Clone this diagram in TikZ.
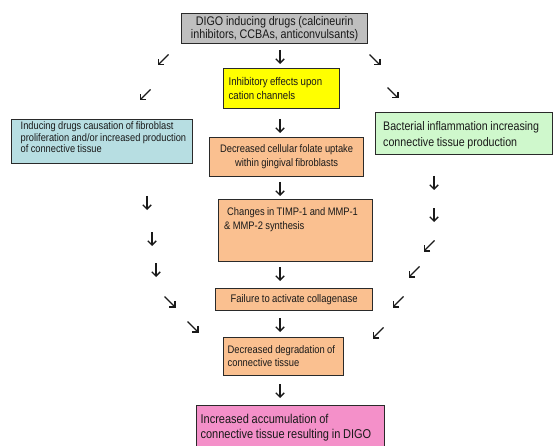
\documentclass[tikz,border=0pt]{standalone}
\usepackage{fontspec}
\setmainfont{Liberation Sans}[FakeStretch=0.86,WordSpace=0.9]
\usetikzlibrary{arrows.meta}
\definecolor{boxgray}{HTML}{BFBFBF}
\definecolor{boxyellow}{HTML}{FFFF00}
\definecolor{boxblue}{HTML}{B7DEE2}
\definecolor{boxgreen}{HTML}{CFF8CC}
\definecolor{boxorange}{HTML}{FAC090}
\definecolor{boxpink}{HTML}{F490C9}
\definecolor{edge}{HTML}{2A2A2A}
\definecolor{ink}{HTML}{1A1A1A}
\tikzset{
  box/.style={draw=edge, line width=1.2pt, rectangle, anchor=north west, inner xsep=5pt, inner ysep=2pt, text=ink},
  txt/.style={text=ink, inner sep=0pt, anchor=north west, align=flush left},
  arr/.style={draw=ink, line width=1.35pt, -{Straight Barb[length=4.2pt,width=8.4pt]}},
}
\newcommand{\dn}[2]{\draw[arr] (#1,#2-7) -- (#1,#2+7);}
\newcommand{\sw}[2]{\draw[arr] (#1+5.5,#2-5.5) -- (#1-5.5,#2+5.5);}
\newcommand{\se}[2]{\draw[arr] (#1-5.5,#2-5.5) -- (#1+5.5,#2+5.5);}
\begin{document}
\begin{tikzpicture}[x=1pt,y=-1pt]
\useasboundingbox (0,0) rectangle (553,446);
\fill[white] (0,0) rectangle (553,446);

% boxes
\node[box, fill=boxgray, minimum width=186pt, minimum height=30pt, align=center, inner ysep=1pt,
      font=\fontsize{12.5}{13.5}\selectfont] (digo) at (181,13)
  {DIGO inducing drugs (calcineurin\\inhibitors, CCBAs, anticonvulsants)};
\node[box, fill=boxyellow, minimum width=116pt, minimum height=40pt, text width=106pt, align=flush left,
      font=\fontsize{11.2}{14}\selectfont] (yel) at (223,68)
  {Inhibitory effects upon\\cation channels};
\node[box, fill=boxblue, minimum width=181pt, minimum height=44pt] (blue) at (11,119) {};
\node[txt, font=\fontsize{10.8}{11.6}\selectfont] (bluetxt) at ([xshift=9.5pt,yshift=-2.5pt]blue.north west)
  {Inducing drugs causation of fibroblast\\proliferation and/or increased production\\of connective tissue};
\node[box, fill=boxgreen, minimum width=177pt, minimum height=42pt] (green) at (375,112) {};
\node[txt, font=\fontsize{12.4}{16}\selectfont] (greentxt) at ([xshift=8pt,yshift=-9pt]green.north west)
  {Bacterial inflammation increasing\\connective tissue production};
\node[box, fill=boxorange, minimum width=154pt, minimum height=39pt, align=center,
      font=\fontsize{10.9}{14}\selectfont] (folate) at (209,137)
  {Decreased cellular folate uptake\\within gingival fibroblasts};
\node[box, fill=boxorange, minimum width=154pt, minimum height=62pt] (timp) at (218,199) {};
\node[txt, font=\fontsize{10.9}{14}\selectfont]
  (timptxt) at ([xshift=6pt,yshift=-8pt]timp.north west)
  {\hspace*{3pt}Changes in TIMP-1 and MMP-1\\\& MMP-2 synthesis};
\node[box, fill=boxorange, minimum width=157pt, minimum height=22pt, align=center,
      font=\fontsize{11}{12}\selectfont] (fail) at (215,288)
  {Failure to activate collagenase};
\node[box, fill=boxorange, minimum width=120pt, minimum height=38pt, text width=112pt, align=flush left,
      inner xsep=4pt, font=\fontsize{10.9}{13}\selectfont] (degr) at (223,337)
  {Decreased degradation of\\connective tissue};
\node[box, fill=boxpink, minimum width=188pt, minimum height=44pt, text width=180pt, align=flush left,
      inner xsep=4pt, font=\fontsize{12.8}{15.5}\selectfont] (pink) at (196,405)
  {Increased accumulation of\\connective tissue resulting in DIGO};

% top arrows
\sw{163}{60}
\dn{280}{57}
\se{375}{60}
\sw{145}{95}
\se{393}{93}
% centre column
\dn{280}{126}
\dn{280}{189}
\dn{280}{274}
\dn{280}{325}
\dn{280}{391}
% left column
\dn{147}{203}
\dn{152}{239}
\dn{156}{270}
\se{170}{302}
\se{193}{327}
% right column
\dn{434}{183}
\dn{434}{215}
\sw{429}{246}
\sw{414}{272}
\sw{398}{302}
\sw{378}{333}
\end{tikzpicture}
\end{document}
